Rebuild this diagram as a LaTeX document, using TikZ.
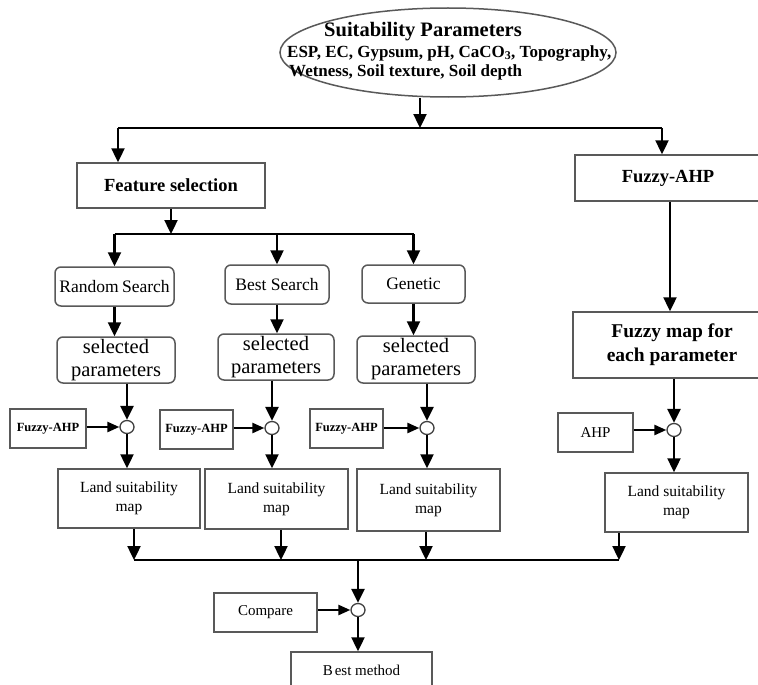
\documentclass[tikz,border=0pt]{standalone}
\usepackage{fontspec}
\setmainfont{Liberation Serif}
\usetikzlibrary{arrows.meta,shapes.geometric}
\begin{document}
\begin{tikzpicture}[x=1pt,y=-1pt,
  box/.style={draw=black!65,line width=1.5pt,rectangle,inner sep=0pt,align=center},
  rbox/.style={box,rounded corners=6pt},
  junc/.style={draw=black!75,line width=1.3pt,fill=white,ellipse,minimum width=14pt,minimum height=13pt,inner sep=0pt},
  arr/.style={line width=2.4pt,-{Triangle[length=14pt 0,width=13pt 0]}},
  sarr/.style={line width=2.4pt,-{Triangle[length=12pt 0,width=10pt 0]}},
  ln/.style={line width=2.4pt},
  fs/.style 2 args={font=\fontsize{#1}{#2}\selectfont},
  fb/.style 2 args={font=\fontsize{#1}{#2}\selectfont\bfseries}
]
\clip (0,0) rectangle (758,685);
\fill[white] (0,0) rectangle (758,685);

% top ellipse
\node[draw=black!65,line width=1.5pt,ellipse,minimum width=336pt,minimum height=89pt,inner sep=0pt] (params) at (448,52.5) {};
\node[fb={20.5}{24},inner sep=0pt] (ptitle) at (423,32) {Suitability Parameters};
\node[fb={17}{20},anchor=west,inner sep=0pt] (pline2) at (287,53) {ESP, EC, Gypsum, pH, CaCO\textsubscript{3}, Topography,};
\node[fb={17}{20},anchor=west,inner sep=0pt] (pline3) at (289,72) {Wetness, Soil texture, Soil depth};

% first level
\node[box,fb={18.5}{22},minimum width=188pt,minimum height=45pt] (fsel) at (171,185.5) {Feature selection};
\node[box,fb={18.5}{22},minimum width=186pt,minimum height=46pt] (fahp) at (668,178) {Fuzzy-AHP};

% search boxes
\node[rbox,fs={17.5}{20},minimum width=119pt,minimum height=39pt] (rs) at (114.5,286.5) {Random\kern-1pt\ Search};
\node[rbox,fs={17.5}{20},minimum width=104pt,minimum height=39pt] (bs) at (277,284.5) {Best Search};
\node[rbox,fs={17.5}{20},minimum width=103pt,minimum height=38pt] (gen) at (413.5,284) {Genetic};

% selected parameters
\node[rbox,fs={20.5}{23},minimum width=118pt,minimum height=46pt] (sel1) at (116,360) {selected\\parameters};
\node[rbox,fs={20.5}{23},minimum width=116pt,minimum height=46pt] (sel2) at (276,357) {selected\\parameters};
\node[rbox,fs={20.5}{23},minimum width=118pt,minimum height=47pt] (sel3) at (416,359.5) {selected\\parameters};

% Fuzzy-AHP small boxes
\node[box,fb={12.5}{15},minimum width=76pt,minimum height=39pt] (fa1) at (48,428.5) {Fuzzy-AHP};
\node[box,fb={12.5}{15},minimum width=73pt,minimum height=39pt] (fa2) at (196.5,429.5) {Fuzzy-AHP};
\node[box,fb={12.5}{15},minimum width=73pt,minimum height=39pt] (fa3) at (346.5,428.5) {Fuzzy-AHP};

% junctions
\node[junc] (c1) at (127,427) {};
\node[junc] (c2) at (272,428) {};
\node[junc] (c3) at (427,428) {};
\node[junc] (c4) at (674,430) {};
\node[junc] (c5) at (358,610) {};

% land suitability maps
\node[box,fs={15.5}{19},minimum width=142pt,minimum height=59pt] (land1) at (129,498.5) {Land suitability\\map};
\node[box,fs={15.5}{19},minimum width=143pt,minimum height=60pt] (land2) at (276.5,499) {Land suitability\\map};
\node[box,fs={15.5}{19},minimum width=143pt,minimum height=62pt] (land3) at (428.5,500) {Land suitability\\map};
\node[box,fs={15.5}{19},minimum width=143pt,minimum height=59pt] (land4) at (676.5,502.5) {Land suitability\\map};

% right column
\node[box,fb={19.5}{24},minimum width=198pt,minimum height=66pt] (fmap) at (672,345) {Fuzzy map for\\each parameter};
\node[box,fs={15}{17},minimum width=75pt,minimum height=39pt] (ahp) at (595.5,432.5) {AHP};

% bottom
\node[box,fs={15}{18},minimum width=103pt,minimum height=39pt] (cmp) at (265.5,612.5) {Compare};
\node[box,fs={15}{18},minimum width=141pt,minimum height=36pt] (best) at (361.5,670) {B\kern2pt est method};

% coordinates for splits
\coordinate (split) at (420,128);
\coordinate (L1) at (118,128);
\coordinate (R1) at (662,128);
\coordinate (s2) at (171,234);
\coordinate (b1) at (134,560);
\coordinate (b2) at (281,560);
\coordinate (b3) at (426,560);
\coordinate (b4) at (619,560);

% connectors top
\draw[arr] (split |- params.south) -- (split);
\draw[ln] (L1) -- (R1);
\draw[arr] (L1) -- (L1 |- fsel.north);
\draw[arr] (R1) -- (R1 |- fahp.north);

% feature selection split
\draw[arr] (fsel.south) -- (s2);
\draw[ln] (rs.north |- s2) -- (gen.north |- s2);
\draw[arr] (rs.north |- s2) -- (rs.north);
\draw[arr] (bs.north |- s2) -- (bs.north);
\draw[arr] (gen.north |- s2) -- (gen.north);

% search -> selected
\draw[arr] (rs.south) -- (rs.south |- sel1.north);
\draw[arr] (bs.south) -- (bs.south |- sel2.north);
\draw[arr] (gen.south) -- (gen.south |- sel3.north);

% selected -> junctions
\draw[arr] (c1 |- sel1.south) -- (c1.north);
\draw[arr] (c2 |- sel2.south) -- (c2.north);
\draw[arr] (c3 |- sel3.south) -- (c3.north);

% fuzzy-ahp -> junctions
\draw[sarr] (fa1.east |- c1) -- (c1.west);
\draw[sarr] (fa2.east |- c2) -- (c2.west);
\draw[sarr] (fa3.east |- c3) -- (c3.west);

% junctions -> land maps
\draw[arr] (c1.south) -- (c1 |- land1.north);
\draw[arr] (c2.south) -- (c2 |- land2.north);
\draw[arr] (c3.south) -- (c3 |- land3.north);

% right column
\draw[arr] ([xshift=2pt]fahp.south) -- ([xshift=2pt]fahp.south |- fmap.north);
\draw[arr] (c4 |- fmap.south) -- (c4.north);
\draw[sarr] (ahp.east |- c4) -- (c4.west);
\draw[arr] (c4.south) -- (c4 |- land4.north);

% land maps -> bottom line
\draw[arr] (b1 |- land1.south) -- (b1);
\draw[arr] (b2 |- land2.south) -- (b2);
\draw[arr] (b3 |- land3.south) -- (b3);
\draw[arr] (b4 |- land4.south) -- (b4);
\draw[ln] (b1) -- (b4);
\draw[arr] (c5 |- b1) -- (c5.north);
\draw[sarr] (cmp.east |- c5) -- (c5.west);
\draw[arr] (c5.south) -- (c5 |- best.north);
\end{tikzpicture}
\end{document}
